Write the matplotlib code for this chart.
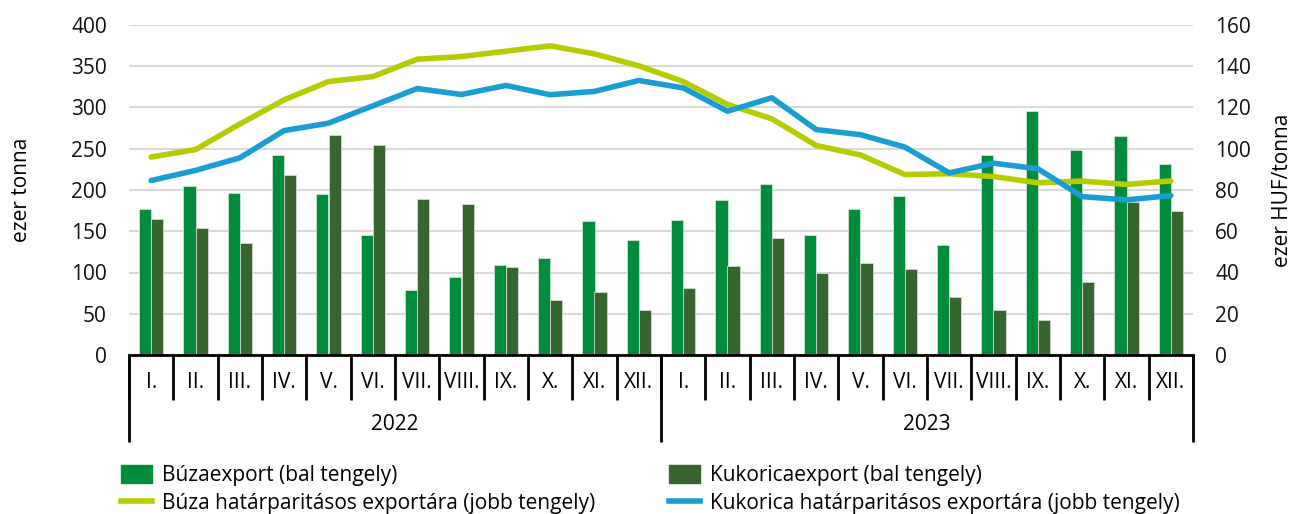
import matplotlib.pyplot as plt
import numpy as np
from matplotlib.lines import Line2D
from matplotlib.patches import Patch

plt.rcParams['font.family'] = ['Open Sans', 'DejaVu Sans']

months = ["I.", "II.", "III.", "IV.", "V.", "VI.", "VII.", "VIII.", "IX.", "X.", "XI.", "XII."]
years = ["2022", "2023"]

# ezer tonna (bal tengely)
wheat_export = [177, 205, 196, 243, 195, 146, 79, 94, 109, 117, 163, 139,
                164, 188, 207, 145, 177, 193, 133, 242, 296, 249, 266, 231]
corn_export = [165, 154, 136, 218, 267, 255, 189, 183, 107, 67, 76, 55,
               81, 108, 142, 99, 112, 104, 70, 54, 43, 88, 185, 175]

# ezer HUF/tonna (jobb tengely)
wheat_price = [96, 99.6, 112, 123.7, 132.6, 135, 143.4, 144.7, 147.3, 149.9, 146, 140.2,
               132.6, 121.5, 114.5, 101.6, 97, 87.5, 87.9, 86.5, 83.5, 84.3, 82.7, 84.4]
corn_price = [84.6, 89.5, 95.6, 108.8, 112.4, 120.8, 129.2, 126.3, 130.7, 126.2, 127.8, 133.1,
              129.5, 118.2, 124.7, 109.3, 106.8, 100.8, 88.3, 93, 90.3, 76.8, 75.2, 77.3]

c_wheat = "#008C3A"
c_corn = "#36652E"
c_wheat_line = "#B5CD00"
c_corn_line = "#1A9DD3"

fig = plt.figure(figsize=(12.96, 5.14), dpi=100)
ax = fig.add_axes([129 / 1296, 1 - 355 / 514, 1064 / 1296, 330 / 514])
ax2 = ax.twinx()

x = np.arange(len(wheat_export))
w = 0.275
ax.bar(x - w / 2, wheat_export, w, color=c_wheat, edgecolor="#cfe3cf", linewidth=0.6, zorder=3)
ax.bar(x + w / 2, corn_export, w, color=c_corn, edgecolor="#cfd9cc", linewidth=0.6, zorder=3)

ax2.plot(x, wheat_price, color=c_wheat_line, lw=4, solid_capstyle="round", solid_joinstyle="round")
ax2.plot(x, corn_price, color=c_corn_line, lw=4, solid_capstyle="round", solid_joinstyle="round")

ax.set_xlim(-0.5, len(x) - 0.5)
ax.set_ylim(0, 400)
ax2.set_ylim(0, 160)
ax.set_yticks(np.arange(0, 401, 50))
ax2.set_yticks(np.arange(0, 161, 20))
ax.grid(axis="y", color="#d9d9d9", lw=1.5, zorder=0)
ax.set_axisbelow(True)

for a in (ax, ax2):
    for s in ("top", "left", "right", "bottom"):
        a.spines[s].set_visible(False)
    a.tick_params(axis="y", length=0, labelsize=15, colors="#111111")
ax.tick_params(axis="y", pad=16)
ax2.tick_params(axis="y", pad=16)
ax.spines["bottom"].set_visible(True)
ax.spines["bottom"].set_linewidth(2)
ax.spines["bottom"].set_zorder(5)

# month labels + separators
ax.set_xticks(x, months * len(years))
ax.tick_params(axis="x", length=0, labelsize=15, pad=12)
trans = ax.get_xaxis_transform()
sep = np.arange(-0.5, len(x), 1)
ax.vlines(sep, -45 / 330, 0, transform=trans, color="black", lw=2, clip_on=False)
ysep = np.arange(-0.5, len(x), len(months))
ax.vlines(ysep, -87 / 330, 0, transform=trans, color="black", lw=2, clip_on=False)
for i, yr in enumerate(years):
    ax.text(i * len(months) + (len(months) - 1) / 2, -70 / 330, yr, transform=trans,
            ha="center", va="center", fontsize=15)

ax.set_ylabel("ezer tonna", fontsize=15, labelpad=28)
ax2.set_ylabel("ezer HUF/tonna", fontsize=15, labelpad=15)

handles = [
    Patch(color=c_wheat),
    Line2D([], [], color=c_wheat_line, lw=4),
    Patch(color=c_corn),
    Line2D([], [], color=c_corn_line, lw=4),
]
labels = [
    "Búzaexport (bal tengely)",
    "Búza határparitásos exportára (jobb tengely)",
    "Kukoricaexport (bal tengely)",
    "Kukorica határparitásos exportára (jobb tengely)",
]
fig.legend(handles, labels, ncol=2, loc="lower left", bbox_to_anchor=(102 / 1296, -0.036),
           frameon=False, fontsize=15, handlelength=1.5, handleheight=1.0,
           handletextpad=0.5, columnspacing=3.5, labelspacing=0.3)

fig.savefig("out.png", dpi=100)
